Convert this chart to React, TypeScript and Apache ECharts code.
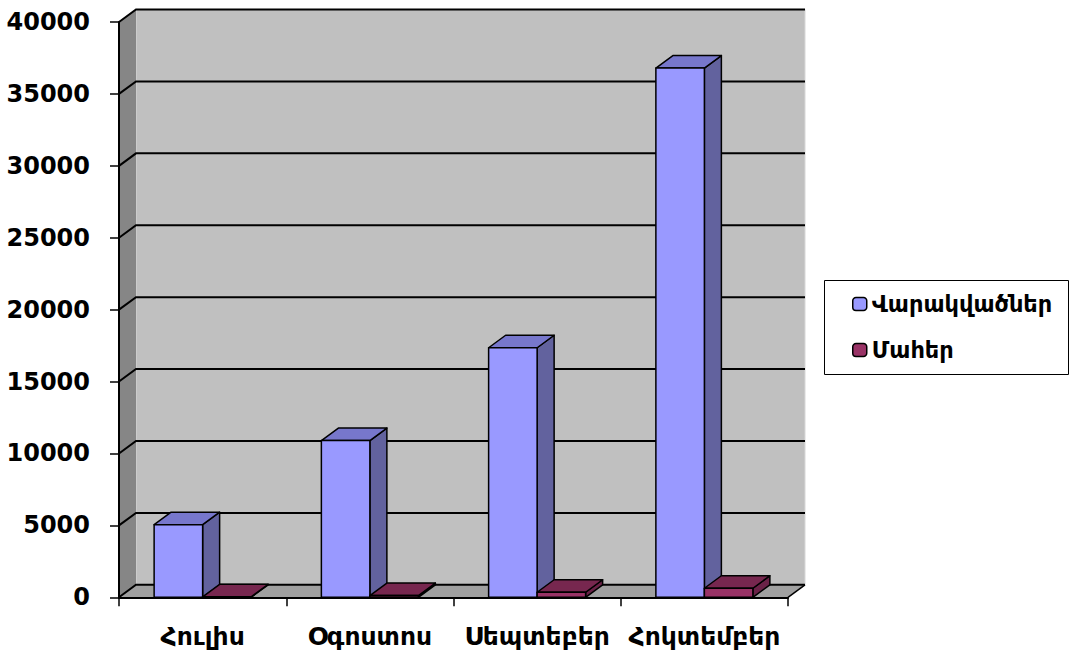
import React, { useEffect, useRef } from "react";
import * as echarts from "echarts";

const categories = ["Հուլիս", "Օգոստոս", "Սեպտեբեր", "Հոկտեմբեր"];
const seriesNames = ["Վարակվածներ", "Մահեր"];
const infected = [5050, 10900, 17350, 36800];
const deaths = [30, 120, 350, 630];
const yTicks = [0, 5000, 10000, 15000, 20000, 25000, 30000, 35000, 40000];

const DX = 17;
const DY = -12.5;
const FONT = "'DejaVu Sans', 'Liberation Sans', sans-serif";

function makeBarRender(left: boolean, front: string, top: string, side: string) {
  return (params: any, api: any) => {
    const cat = api.value(0);
    const v = api.value(1);
    const pTop = api.coord([cat, v]);
    const pBase = api.coord([cat, 0]);
    const cw = api.size([1, 0])[0];
    const bw = cw * 0.29;
    const x0 = left ? pTop[0] - bw : pTop[0];
    const yT = pTop[1];
    const yB = pBase[1];
    const stroke = { stroke: "#000", lineWidth: 1.5, lineJoin: "round" };
    return {
      type: "group",
      children: [
        {
          type: "polygon",
          shape: {
            points: [
              [x0 + bw, yT],
              [x0 + bw + DX, yT + DY],
              [x0 + bw + DX, yB + DY],
              [x0 + bw, yB],
            ],
          },
          style: { fill: side, ...stroke },
        },
        {
          type: "polygon",
          shape: {
            points: [
              [x0, yT],
              [x0 + DX, yT + DY],
              [x0 + bw + DX, yT + DY],
              [x0 + bw, yT],
            ],
          },
          style: { fill: top, ...stroke },
        },
        {
          type: "rect",
          shape: { x: x0, y: yT, width: bw, height: Math.max(yB - yT, 0.5) },
          style: { fill: front, ...stroke },
        },
      ],
    };
  };
}

function wallRender(params: any, api: any) {
  const cw = api.size([1, 0])[0];
  const xL = api.coord([0, 0])[0] - cw / 2;
  const xR = api.coord([categories.length - 1, 0])[0] + cw / 2;
  const y0 = api.coord([0, 0])[1];
  const yTop = api.coord([0, yTicks[yTicks.length - 1]])[1];
  const children: any[] = [];
  children.push({
    type: "rect",
    shape: { x: xL + DX, y: yTop + DY, width: xR - xL, height: y0 - yTop },
    style: { fill: "#C0C0C0", stroke: "#D8D8D8", lineWidth: 1 },
  });
  children.push({
    type: "polygon",
    shape: {
      points: [
        [xL, y0],
        [xL, yTop],
        [xL + DX, yTop + DY],
        [xL + DX, y0 + DY],
      ],
    },
    style: { fill: "#868686" },
  });
  children.push({
    type: "polygon",
    shape: {
      points: [
        [xL, y0],
        [xR, y0],
        [xR + DX, y0 + DY],
        [xL + DX, y0 + DY],
      ],
    },
    style: { fill: "#A0A0A0" },
  });
  yTicks.forEach((t) => {
    const y = api.coord([0, t])[1];
    children.push({
      type: "polyline",
      shape: {
        points: [
          [xL, y],
          [xL + DX, y + DY],
          [xR + DX, y + DY],
        ],
      },
      style: { stroke: "#000", lineWidth: 2, fill: null },
    });
  });
  children.push({
    type: "line",
    shape: { x1: xR, y1: y0, x2: xR + DX, y2: y0 + DY },
    style: { stroke: "#000", lineWidth: 1.5 },
  });
  return { type: "group", children };
}

export default function App() {
  const ref = useRef<HTMLDivElement>(null);
  useEffect(() => {
    if (!ref.current) return;
    const chart = echarts.init(ref.current, undefined, { renderer: "svg" });
    chart.setOption({
      animation: false,
      backgroundColor: "#FFFFFF",
      grid: {
        left: 119,
        top: 22,
        width: 669,
        bottom: 61.7,
        containLabel: false,
        outerBoundsMode: "none",
      },
      xAxis: {
        type: "category",
        data: categories,
        boundaryGap: true,
        axisLine: { show: true, lineStyle: { color: "#000", width: 2 } },
        axisTick: { show: true, length: 9, lineStyle: { color: "#000", width: 1.5 } },
        axisLabel: {
          color: "#000",
          fontFamily: FONT,
          fontWeight: "bold",
          fontSize: 25,
          margin: 27,
          interval: 0,
        },
        splitLine: { show: false },
        z: 10,
      },
      yAxis: {
        type: "value",
        min: 0,
        max: 40000,
        interval: 5000,
        axisLine: { show: true, lineStyle: { color: "#000", width: 2 } },
        axisTick: { show: true, length: 9, lineStyle: { color: "#000", width: 1.5 } },
        axisLabel: {
          color: "#000",
          fontFamily: FONT,
          fontWeight: "bold",
          fontSize: 24,
          margin: 29,
          formatter: (v: number) => String(v),
        },
        splitLine: { show: false },
        z: 10,
      },
      legend: {
        orient: "vertical",
        left: 852,
        top: 291,
        itemWidth: 14,
        itemHeight: 13,
        itemGap: 20,
        padding: 0,
        data: [
          { name: seriesNames[0], itemStyle: { color: "#9999FF", borderColor: "#000", borderWidth: 1.5 } },
          { name: seriesNames[1], itemStyle: { color: "#993366", borderColor: "#000", borderWidth: 1.5 } },
        ],
        textStyle: {
          color: "#000",
          fontFamily: FONT,
          fontWeight: "bold",
          fontSize: 22.5,
          lineHeight: 26,
          padding: [0, 0, 0, 0],
        },
      },
      graphic: [
        {
          type: "rect",
          left: 824,
          top: 280,
          shape: { width: 244, height: 94 },
          style: { fill: "#fff", stroke: "#000", lineWidth: 1 },
          z: -1,
        },
      ],
      series: [
        {
          type: "custom",
          name: "walls",
          renderItem: wallRender,
          data: [[0, 0]],
          encode: { x: 0, y: 1 },
          z: 1,
          silent: true,
        },
        {
          type: "custom",
          name: seriesNames[0],
          renderItem: makeBarRender(true, "#9999FF", "#7777CC", "#62629E"),
          data: categories.map((_, i) => [i, infected[i]]),
          encode: { x: 0, y: 1 },
          itemStyle: { color: "#9999FF" },
          z: 3,
        },
        {
          type: "custom",
          name: seriesNames[1],
          renderItem: makeBarRender(false, "#993366", "#77274F", "#6A2247"),
          data: categories.map((_, i) => [i, deaths[i]]),
          encode: { x: 0, y: 1 },
          itemStyle: { color: "#993366" },
          z: 4,
        },
      ],
    });
    return () => chart.dispose();
  }, []);
  return (
    <div
      ref={ref}
      style={{ position: "fixed", left: 0, top: 0, width: 1070, height: 659 }}
    />
  );
}
